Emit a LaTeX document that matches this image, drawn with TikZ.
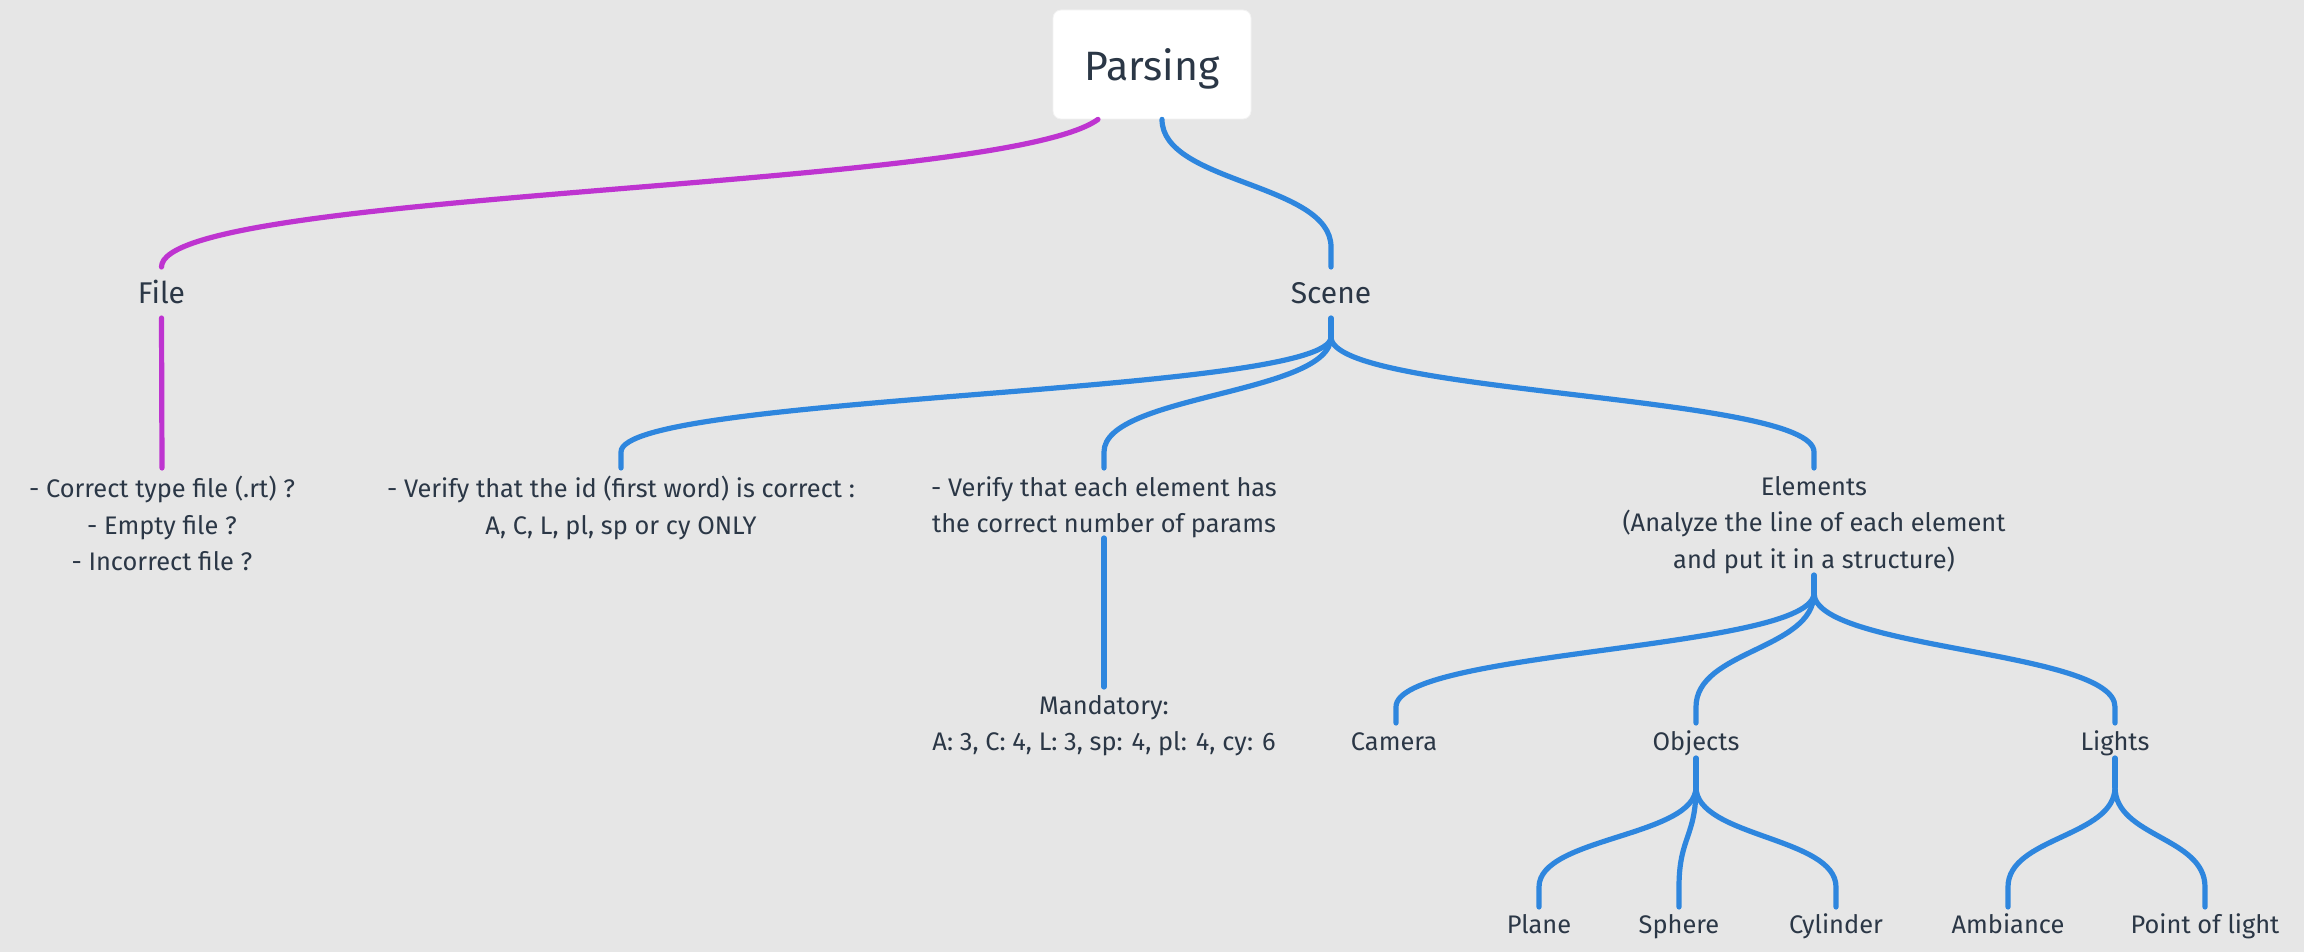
\documentclass[tikz,border=0pt]{standalone}
\usepackage{fontspec}
\setmainfont{Fira Sans}
\usetikzlibrary{calc}
\definecolor{bgc}{RGB}{230,230,230}
\definecolor{linkblue}{RGB}{46,134,222}
\definecolor{linkpurple}{RGB}{190,52,208}
\definecolor{ink}{RGB}{43,55,70}
\tikzset{
  link/.style={draw=linkblue, line width=2.6pt, line cap=round},
  plink/.style={draw=linkpurple, line width=2.6pt, line cap=round},
  rootbox/.style={fill=white, draw=black!5, line width=0.4pt, rounded corners=4pt,
    minimum width=99pt, minimum height=54.5pt, text height=0.69em, text depth=0pt,
    font=\fontsize{20.5}{25}\selectfont, text=ink},
  lvlone/.style={font=\fontsize{15}{18}\selectfont, text=ink, inner sep=0pt, anchor=base},
  lvltwo/.style={font=\fontsize{12.7}{18.25}\selectfont, text=ink, inner sep=0pt, align=center, anchor=north},
  lvlthree/.style={font=\fontsize{12.7}{18.25}\selectfont, text=ink, inner sep=0pt, anchor=base},
}
\newcommand{\tlink}[4]{\draw[#1] let \p1=(#2), \p2=($(#3)+(0,-#4)$), \p3=($(\p1)!0.5!(\p2)$) in
  (#2) .. controls (\x1,\y3) and (\x2,\y3) .. (\p2) -- (#3);}
\begin{document}
\begin{tikzpicture}[x=0.5pt,y=-0.5pt]
\fill[bgc] (0,0) rectangle (2304,952);
\useasboundingbox (0,0) rectangle (2304,952);

% nodes
\node[rootbox] (parsing) at (1152,64.5) {\raisebox{-4.5pt}{Parsing}};
\node[lvlone] (file) at (161.5,304) {File};
\node[lvlone] (scene) at (1331,304) {Scene};
\node[lvltwo] (filechk) at (162,476) {- Correct type file (.rt) ?\\- Empty file ?\\- Incorrect file ?};
\node[lvltwo] (idchk) at (621,476) {- Verify that the id (first word) is correct :\\A, C, L, pl, sp or cy ONLY};
\node[lvltwo] (parchk) at (1104,476) {- Verify that each element has\\the correct number of params};
\node[lvltwo] (elements) at (1814,476) {Elements\\(Analyze the line of each element\\and put it in a structure)};
\node[lvltwo] (mand) at (1104,695) {Mandatory:\\A: 3, C: 4, L: 3, sp: 4, pl: 4, cy: 6};
\node[lvlthree] (camera) at (1394,750) {Camera};
\node[lvlthree] (objects) at (1696,750) {Objects};
\node[lvlthree] (lights) at (2115,750) {Lights};
\node[lvlthree] (plane) at (1539,933) {Plane};
\node[lvlthree] (sphere) at (1679,933) {Sphere};
\node[lvlthree] (cylinder) at (1836,933) {Cylinder};
\node[lvlthree] (ambiance) at (2008,933) {Ambiance};
\node[lvlthree] (pointlight) at (2205,933) {Point of light};

% ports
\coordinate (pL) at ($(parsing.south)+(-54,0)$);
\coordinate (pR) at ($(parsing.south)+(10,0)$);
\coordinate (fileT) at ($(file.base)+(0,-37)$);
\coordinate (fileB) at ($(file.base)+(0,14)$);
\coordinate (filechkT) at ($(filechk.north)+(0,-8)$);
\coordinate (sceneT) at ($(scene.base)+(0,-37)$);
\coordinate (sceneB) at ($(scene.base)+(0,14)$);
\coordinate (sceneJ) at ($(scene.base)+(0,33)$);
\coordinate (idT) at ($(idchk.north)+(0,-8)$);
\coordinate (parT) at ($(parchk.north)+(0,-8)$);
\coordinate (parB) at ($(parchk.north)+(0,62)$);
\coordinate (mandT) at ($(mand.north)+(0,-8)$);
\coordinate (elemT) at ($(elements.north)+(0,-8)$);
\coordinate (elemB) at ($(elements.north)+(0,99)$);
\coordinate (elemJ) at ($(elements.north)+(0,117)$);
\coordinate (camT) at ($(camera.base)+(2,-27)$);
\coordinate (objT) at ($(objects.base)+(0,-27)$);
\coordinate (objB) at ($(objects.base)+(0,8)$);
\coordinate (objJ) at ($(objects.base)+(0,37)$);
\coordinate (litT) at ($(lights.base)+(0,-27)$);
\coordinate (litB) at ($(lights.base)+(0,8)$);
\coordinate (litJ) at ($(lights.base)+(0,37)$);
\coordinate (planeT) at ($(plane.base)+(0,-26)$);
\coordinate (sphereT) at ($(sphere.base)+(0,-26)$);
\coordinate (cylT) at ($(cylinder.base)+(0,-26)$);
\coordinate (ambT) at ($(ambiance.base)+(0,-26)$);
\coordinate (polT) at ($(pointlight.base)+(0,-26)$);

% connectors
\draw[plink] (pL) .. controls ($(pL)+(-98,71)$) and ($(fileT)+(0,-77)$) .. (fileT);
\draw[plink] (fileB) -- (filechkT);
\tlink{link}{pR}{sceneT}{20}
\draw[link] (sceneB) -- (sceneJ);
\tlink{link}{sceneJ}{idT}{16}
\tlink{link}{sceneJ}{parT}{16}
\tlink{link}{sceneJ}{elemT}{16}
\draw[link] (parB) -- (mandT);
\draw[link] (elemB) -- (elemJ);
\tlink{link}{elemJ}{camT}{16}
\tlink{link}{elemJ}{objT}{16}
\tlink{link}{elemJ}{litT}{16}
\draw[link] (objB) -- (objJ);
\tlink{link}{objJ}{planeT}{20}
\tlink{link}{objJ}{sphereT}{20}
\tlink{link}{objJ}{cylT}{20}
\draw[link] (litB) -- (litJ);
\tlink{link}{litJ}{ambT}{20}
\tlink{link}{litJ}{polT}{20}
\end{tikzpicture}
\end{document}
